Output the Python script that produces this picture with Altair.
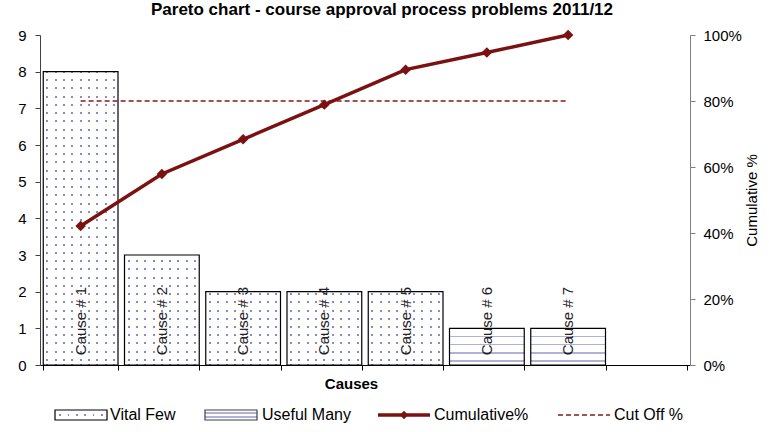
import altair as alt
import pandas as pd

# ---------------- data ----------------
causes = ["Cause # 1", "Cause # 2", "Cause # 3", "Cause # 4", "Cause # 5", "Cause # 6", "Cause # 7"]
counts = [8, 3, 2, 2, 2, 1, 1]
groups = ["Vital Few", "Vital Few", "Vital Few", "Vital Few", "Vital Few", "Useful Many", "Useful Many"]
cumulative = [0.421, 0.579, 0.684, 0.789, 0.895, 0.947, 1.0]
cutoff = 0.8
legend_labels = ["Vital Few", "Useful Many", "Cumulative%", "Cut Off %"]
title_text = "Pareto chart - course approval process problems 2011/12"

W, H = 650, 330
FONT = "Liberation Sans"
RED = "#7b1111"
CUT = "#8b1a1a"
DOT = "#8a8ac8"
LINE_BLUE = "#aeb1dc"

df = pd.DataFrame({"cause": causes, "count": counts, "group": groups, "pct": cumulative})
cut_df = pd.DataFrame({"cause": [causes[0], causes[-1]], "pct": [cutoff, cutoff]})
dummy = pd.DataFrame({"k": [0]})

x_domain = causes + [""]


# ---------------- pattern gradients (styling only) ----------------
def stripes(centers, half, on, off, vertical):
    stops = [{"offset": 0, "color": off}]
    for c in centers:
        stops += [
            {"offset": max(c - half, 0), "color": off},
            {"offset": max(c - half, 0), "color": on},
            {"offset": min(c + half, 1), "color": on},
            {"offset": min(c + half, 1), "color": off},
        ]
    stops.append({"offset": 1, "color": off})
    g = {"gradient": "linear", "stops": stops, "x1": 0, "y1": 0}
    if vertical:
        g.update({"x2": 0, "y2": 1})
    else:
        g.update({"x2": 1, "y2": 0})
    return g


def even(n):
    return [(i + 0.5) / n for i in range(n)]


dot_columns = stripes(even(9), 1.0 / 75, DOT, "#ffffff", vertical=False)
row_mask = stripes(even(40), 1.0 / 330, "rgba(255,255,255,0)", "#ffffff", vertical=True)
hlines = stripes([(i + 1) * 8.2 / 37 for i in range(4)], 0.8 / 37, LINE_BLUE, "#ffffff", vertical=True)
legend_dots = stripes(even(6), 1.0 / 52, DOT, "#ffffff", vertical=False)
legend_hlines = stripes([0.3, 0.7], 0.08, LINE_BLUE, "#ffffff", vertical=True)

# ---------------- encodings ----------------
xscale = alt.Scale(domain=x_domain, paddingInner=0.08, paddingOuter=0.04)
x_enc = alt.X(
    "cause:N",
    scale=xscale,
    axis=alt.Axis(
        labels=False,
        tickBand="extent",
        title="Causes",
        titleFont=FONT,
        titleFontSize=15,
        titleFontWeight="bold",
        titleColor="black",
        titlePadding=6,
        titleX=311,
        titleAlign="center",
        domainColor="black",
        tickColor="black",
        tickSize=5,
        zindex=1,
    ),
)
y_left = alt.Y(
    "count:Q",
    scale=alt.Scale(domain=[0, 9], nice=False),
    axis=alt.Axis(
        title=None,
        values=list(range(10)),
        grid=False,
        tickSize=5,
        labelPadding=9,
        labelFont=FONT,
        labelFontSize=15,
        labelColor="black",
        domainColor="#404040",
        tickColor="#404040",
        zindex=1,
    ),
)
y_right = alt.Y(
    "pct:Q",
    scale=alt.Scale(domain=[0, 1], nice=False),
    axis=alt.Axis(
        orient="right",
        format=".0%",
        values=[0, 0.2, 0.4, 0.6, 0.8, 1.0],
        grid=False,
        tickSize=5,
        labelPadding=8,
        labelFont=FONT,
        labelFontSize=15,
        labelColor="black",
        domainColor="#808080",
        tickColor="#808080",
        title="Cumulative %",
        titleFont=FONT,
        titleFontSize=15,
        titleFontWeight="normal",
        titleColor="black",
        titleAngle=270,
        titlePadding=18,
        zindex=1,
    ),
)

# ---------------- left (counts) ----------------
vital_fill = alt.Chart(df).transform_filter(alt.datum.group == "Vital Few").mark_bar(
    fill=dot_columns, strokeWidth=0
).encode(x=x_enc, y=y_left)

mask = alt.Chart(dummy).mark_rect(fill=row_mask, strokeWidth=0).encode(
    x=alt.value(0), x2=alt.value(W), y=alt.value(0), y2=alt.value(H - 1)
)

outlines = alt.Chart(df).transform_filter(alt.datum.group == "Vital Few").mark_bar(
    fillOpacity=0, stroke="black", strokeWidth=1.2
).encode(x=x_enc, y=y_left)

useful = alt.Chart(df).transform_filter(alt.datum.group == "Useful Many").mark_bar(
    fill=hlines, stroke="black", strokeWidth=1.2
).encode(x=x_enc, y=y_left)

labels = alt.Chart(df).mark_text(
    angle=270, font=FONT, fontSize=15, color="#222222", align="center", baseline="middle"
).encode(x=x_enc, y=alt.value(286), text="cause:N")

left = alt.layer(vital_fill, mask, outlines, useful, labels)

# ---------------- right (cumulative %) ----------------
cut_line = alt.Chart(cut_df).mark_line(color=CUT, strokeWidth=1.5, strokeDash=[5, 3]).encode(
    x=x_enc, y=y_right
)
cum_line = alt.Chart(df).mark_line(color=RED, strokeWidth=3.5).encode(x=x_enc, y=y_right)
cum_pts = alt.Chart(df).mark_point(
    shape="diamond", filled=True, size=110, color=RED, opacity=1
).encode(x=x_enc, y=y_right)

right = alt.layer(cut_line, cum_line, cum_pts)

# ---------------- legend ----------------
LY = 380
LFS = 16
leg = []
base = alt.Chart(dummy)
# Vital Few swatch
leg.append(base.mark_rect(fill="white", stroke="black", strokeWidth=1.2).encode(
    x=alt.value(15), x2=alt.value(67), y=alt.value(LY - 5), y2=alt.value(LY + 5)))
leg.append(base.mark_rect(fill=legend_dots, strokeWidth=0).encode(
    x=alt.value(16), x2=alt.value(66), y=alt.value(LY - 1), y2=alt.value(LY + 1)))
leg.append(base.mark_text(text=legend_labels[0], font=FONT, fontSize=LFS, align="left", baseline="middle", color="black").encode(
    x=alt.value(70), y=alt.value(LY)))
# Useful Many swatch
leg.append(base.mark_rect(fill=legend_hlines, stroke="#404040", strokeWidth=1.2).encode(
    x=alt.value(165), x2=alt.value(217), y=alt.value(LY - 5), y2=alt.value(LY + 5)))
leg.append(base.mark_text(text=legend_labels[1], font=FONT, fontSize=LFS, align="left", baseline="middle", color="black").encode(
    x=alt.value(222), y=alt.value(LY)))
# Cumulative swatch
leg.append(base.mark_rule(color=RED, strokeWidth=3.5).encode(
    x=alt.value(338), x2=alt.value(390), y=alt.value(LY)))
leg.append(base.mark_point(shape="diamond", filled=True, size=70, color=RED, opacity=1).encode(
    x=alt.value(364), y=alt.value(LY)))
leg.append(base.mark_text(text=legend_labels[2], font=FONT, fontSize=LFS, align="left", baseline="middle", color="black").encode(
    x=alt.value(394), y=alt.value(LY)))
# Cut off swatch
leg.append(base.mark_rule(color=CUT, strokeWidth=1.5, strokeDash=[5, 3]).encode(
    x=alt.value(518), x2=alt.value(570), y=alt.value(LY)))
leg.append(base.mark_text(text=legend_labels[3], font=FONT, fontSize=LFS, align="left", baseline="middle", color="black").encode(
    x=alt.value(574), y=alt.value(LY)))

chart = alt.layer(left, right, *leg).resolve_scale(y="independent").properties(
    width=W,
    height=H,
    title=alt.Title(
        title_text,
        font=FONT,
        fontSize=17,
        fontWeight="bold",
        color="black",
        anchor="middle",
        frame="group",
        offset=9,
        dx=17,
    ),
    autosize=alt.AutoSizeParams(type="none"),
    padding={"left": 40, "top": 35, "right": 79, "bottom": 67},
).configure_view(stroke=None).configure(background="white")

chart.save("out.html", embed_options={"renderer": "svg", "actions": False})
